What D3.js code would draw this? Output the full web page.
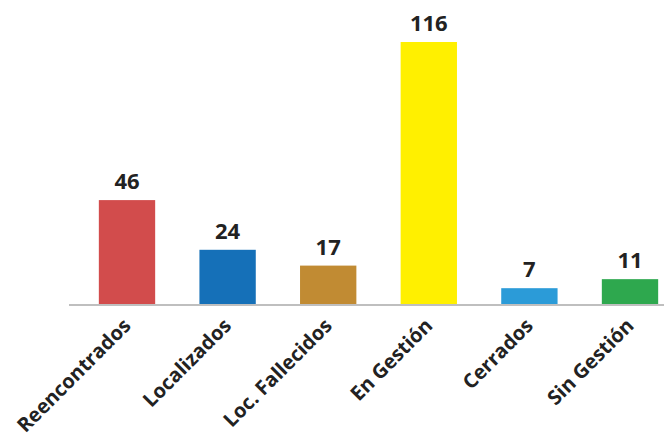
<!DOCTYPE html>
<html>
<head>
<meta charset="utf-8">
<script src="https://cdn.jsdelivr.net/npm/d3@7"></script>
<style>
  body { margin: 0; background: #fff; }
  text { font-family: "Open Sans", "DejaVu Sans", sans-serif; font-weight: bold; fill: #222; }
</style>
</head>
<body>
<div id="chart"></div>
<script>
// datos del gráfico
const categories = ["Reencontrados", "Localizados", "Loc. Fallecidos", "En Gestión", "Cerrados", "Sin Gestión"];
const values = [46, 24, 17, 116, 7, 11];
const colors = ["#d24c4c", "#1570b8", "#c18b33", "#fff000", "#2b9bd8", "#2ea84e"];

const width = 664, height = 439;
const baseY = 304;

const svg = d3.select("#chart")
    .append("svg")
    .attr("width", width)
    .attr("height", height);

// escalas
const x = d3.scaleBand()
    .domain(categories)
    .range([76.7, 680.3])
    .paddingInner(0.44)
    .paddingOuter(0.22);

const y = d3.scaleLinear()
    .domain([0, 116])
    .range([baseY, 42]);

const data = categories.map((c, i) => ({ cat: c, val: values[i], color: colors[i] }));

// barras
svg.selectAll(".bar")
    .data(data)
    .enter()
    .append("rect")
    .attr("class", "bar")
    .attr("x", d => x(d.cat))
    .attr("y", d => y(d.val))
    .attr("width", x.bandwidth())
    .attr("height", d => y(0) - y(d.val) + 1)
    .attr("fill", d => d.color);

// etiquetas de valores
svg.selectAll(".val")
    .data(data)
    .enter()
    .append("text")
    .attr("class", "val")
    .attr("x", d => x(d.cat) + x.bandwidth() / 2)
    .attr("y", d => y(d.val) - 11)
    .attr("text-anchor", "middle")
    .style("font-size", "22px")
    .text(d => d.val);

// eje
const axis = svg.append("g")
    .attr("transform", `translate(0,${baseY + 1})`)
    .call(d3.axisBottom(x).tickSize(0).tickPadding(0));
axis.select(".domain").remove();
axis.append("line")
    .attr("x1", 69).attr("x2", width)
    .attr("y1", 0).attr("y2", 0)
    .attr("stroke", "#bfbfbf")
    .attr("stroke-width", 2);

axis.selectAll(".tick text")
    .attr("y", 0)
    .attr("dy", 0)
    .attr("text-anchor", "end")
    .attr("transform", "translate(5,22) rotate(-45)")
    .style("font-size", "20px")
    .style("font-family", "'Open Sans', sans-serif")
    .attr("fill", "#222");
</script>
</body>
</html>
